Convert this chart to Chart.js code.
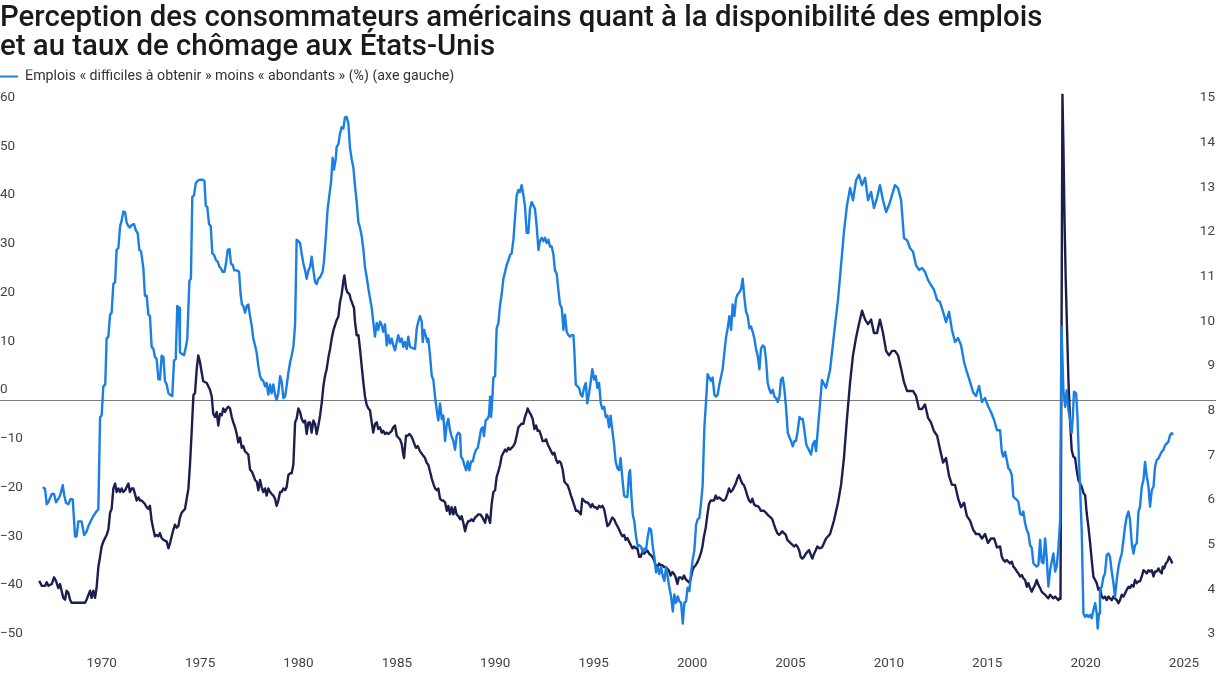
<!DOCTYPE html>
<html lang="fr">
<head>
<meta charset="utf-8">
<title>Emplois et chômage aux États-Unis</title>
<script src="https://cdn.jsdelivr.net/npm/chart.js@4.4.1/dist/chart.umd.min.js"></script>
<style>
  html, body { margin: 0; padding: 0; background: #fff; }
  #chart { display: block; }
</style>
</head>
<body>
<canvas id="chart" width="1216" height="673"></canvas>
<script>
const titleLines = [
  'Perception des consommateurs américains quant à la disponibilité des emplois',
  'et au taux de chômage aux États-Unis'
];
const seriesNames = [
  'Emplois « difficiles à obtenir » moins « abondants » (%) (axe gauche)',
  'Taux de chômage (%) (axe droit)'
];
const yearTicks = [1970, 1975, 1980, 1985, 1990, 1995, 2000, 2005, 2010, 2015, 2020, 2025];
const leftTicks = [-50, -40, -30, -20, -10, 0, 10, 20, 30, 40, 50, 60];
const rightTicks = [3, 4, 5, 6, 7, 8, 9, 10, 11, 12, 13, 14, 15];

// "difficiles à obtenir" moins "abondants", in points (left axis)
const jobsGapYears = [
  1967.25, 1967.37, 1967.46, 1967.54, 1967.72, 1967.84, 1967.94, 1968.06, 1968.15, 1968.29,
  1968.37, 1968.46, 1968.58, 1968.70, 1968.81, 1968.93, 1969.01, 1969.10, 1969.27, 1969.40,
  1969.53, 1969.62, 1969.74, 1969.88, 1970.00, 1970.14, 1970.23, 1970.31, 1970.40, 1970.50,
  1970.57, 1970.66, 1970.75, 1970.83, 1970.92, 1971.01, 1971.09, 1971.18, 1971.27, 1971.35,
  1971.44, 1971.53, 1971.61, 1971.70, 1971.78, 1971.87, 1971.99, 1972.10, 1972.18, 1972.27,
  1972.36, 1972.48, 1972.56, 1972.65, 1972.74, 1972.82, 1972.91, 1973.00, 1973.08, 1973.17,
  1973.26, 1973.34, 1973.43, 1973.52, 1973.60, 1973.69, 1973.78, 1973.86, 1973.98, 1974.07,
  1974.16, 1974.24, 1974.33, 1974.38, 1974.47, 1974.59, 1974.69, 1974.76, 1974.87, 1974.95,
  1975.02, 1975.11, 1975.20, 1975.30, 1975.42, 1975.56, 1975.65, 1975.72, 1975.80, 1975.89,
  1975.98, 1976.06, 1976.15, 1976.25, 1976.34, 1976.43, 1976.51, 1976.60, 1976.69, 1976.77,
  1976.86, 1976.95, 1977.03, 1977.12, 1977.20, 1977.33, 1977.45, 1977.53, 1977.60, 1977.67,
  1977.76, 1977.85, 1977.93, 1978.02, 1978.11, 1978.19, 1978.28, 1978.36, 1978.45, 1978.54,
  1978.62, 1978.71, 1978.80, 1978.88, 1978.97, 1979.06, 1979.14, 1979.23, 1979.32, 1979.40,
  1979.49, 1979.58, 1979.66, 1979.75, 1979.84, 1979.92, 1980.01, 1980.10, 1980.18, 1980.27,
  1980.36, 1980.44, 1980.53, 1980.62, 1980.70, 1980.79, 1980.88, 1980.96, 1981.05, 1981.14,
  1981.22, 1981.31, 1981.40, 1981.48, 1981.57, 1981.66, 1981.79, 1981.86, 1981.97, 1982.05,
  1982.14, 1982.23, 1982.31, 1982.38, 1982.47, 1982.52, 1982.61, 1982.69, 1982.78, 1982.87,
  1982.95, 1983.04, 1983.13, 1983.21, 1983.30, 1983.39, 1983.47, 1983.56, 1983.65, 1983.73,
  1983.82, 1983.91, 1983.99, 1984.08, 1984.17, 1984.25, 1984.34, 1984.42, 1984.51, 1984.60,
  1984.68, 1984.77, 1984.86, 1984.94, 1985.03, 1985.12, 1985.20, 1985.29, 1985.38, 1985.46,
  1985.55, 1985.64, 1985.72, 1985.81, 1985.90, 1985.98, 1986.07, 1986.16, 1986.24, 1986.33,
  1986.50, 1986.59, 1986.68, 1986.76, 1986.85, 1986.94, 1986.99, 1987.06, 1987.14, 1987.23,
  1987.28, 1987.37, 1987.46, 1987.54, 1987.63, 1987.72, 1987.80, 1987.89, 1987.98, 1988.06,
  1988.15, 1988.24, 1988.32, 1988.41, 1988.49, 1988.58, 1988.67, 1988.75, 1988.84, 1988.93,
  1988.98, 1989.07, 1989.15, 1989.24, 1989.33, 1989.41, 1989.50, 1989.59, 1989.67, 1989.76,
  1989.85, 1989.93, 1990.02, 1990.11, 1990.17, 1990.26, 1990.35, 1990.43, 1990.49, 1990.54,
  1990.61, 1990.66, 1990.75, 1990.83, 1990.92, 1991.01, 1991.09, 1991.18, 1991.27, 1991.35,
  1991.44, 1991.53, 1991.61, 1991.70, 1991.79, 1991.87, 1991.96, 1992.04, 1992.13, 1992.22,
  1992.30, 1992.39, 1992.48, 1992.56, 1992.65, 1992.74, 1992.82, 1992.91, 1993.00, 1993.08,
  1993.17, 1993.26, 1993.34, 1993.43, 1993.52, 1993.60, 1993.69, 1993.78, 1993.86, 1993.95,
  1994.04, 1994.12, 1994.21, 1994.30, 1994.38, 1994.47, 1994.56, 1994.64, 1994.73, 1994.82,
  1994.87, 1994.94, 1995.02, 1995.11, 1995.20, 1995.28, 1995.37, 1995.46, 1995.54, 1995.63,
  1995.72, 1995.80, 1995.89, 1995.98, 1996.06, 1996.15, 1996.24, 1996.32, 1996.41, 1996.50,
  1996.58, 1996.67, 1996.75, 1996.84, 1996.93, 1997.01, 1997.10, 1997.19, 1997.27, 1997.36,
  1997.45, 1997.53, 1997.62, 1997.71, 1997.76, 1997.83, 1997.90, 1997.98, 1998.07, 1998.16,
  1998.24, 1998.33, 1998.42, 1998.50, 1998.59, 1998.68, 1998.76, 1998.85, 1998.94, 1999.02,
  1999.11, 1999.20, 1999.28, 1999.37, 1999.46, 1999.54, 1999.63, 1999.72, 1999.80, 1999.89,
  1999.98, 2000.06, 2000.15, 2000.24, 2000.32, 2000.41, 2000.50, 2000.58, 2000.67, 2000.75,
  2000.84, 2000.93, 2001.01, 2001.10, 2001.19, 2001.27, 2001.36, 2001.45, 2001.53, 2001.62,
  2001.71, 2001.79, 2001.88, 2001.97, 2002.05, 2002.14, 2002.23, 2002.31, 2002.40, 2002.49,
  2002.57, 2002.66, 2002.75, 2002.83, 2002.92, 2003.01, 2003.09, 2003.18, 2003.26, 2003.35,
  2003.44, 2003.53, 2003.61, 2003.70, 2003.78, 2003.87, 2003.96, 2004.04, 2004.13, 2004.22,
  2004.30, 2004.39, 2004.48, 2004.56, 2004.65, 2004.74, 2004.82, 2004.91, 2005.00, 2005.08,
  2005.17, 2005.26, 2005.34, 2005.43, 2005.52, 2005.60, 2005.69, 2005.78, 2005.86, 2005.95,
  2006.04, 2006.12, 2006.21, 2006.30, 2006.38, 2006.47, 2006.56, 2006.64, 2006.73, 2006.82,
  2006.91, 2006.99, 2007.08, 2007.16, 2007.25, 2007.34, 2007.42, 2007.51, 2007.60, 2007.73,
  2007.94, 2008.15, 2008.35, 2008.56, 2008.72, 2008.87, 2009.03, 2009.19, 2009.34, 2009.50,
  2009.65, 2009.81, 2009.97, 2010.12, 2010.28, 2010.43, 2010.59, 2010.74, 2010.90, 2011.06,
  2011.21, 2011.37, 2011.52, 2011.68, 2011.84, 2011.99, 2012.15, 2012.30, 2012.46, 2012.61,
  2012.77, 2012.93, 2013.08, 2013.24, 2013.39, 2013.55, 2013.71, 2013.86, 2014.02, 2014.17,
  2014.33, 2014.48, 2014.64, 2014.80, 2014.95, 2015.11, 2015.26, 2015.42, 2015.58, 2015.73,
  2015.89, 2016.04, 2016.20, 2016.35, 2016.51, 2016.67, 2016.82, 2016.98, 2017.07, 2017.15,
  2017.24, 2017.33, 2017.41, 2017.50, 2017.59, 2017.67, 2017.76, 2017.85, 2017.93, 2018.02,
  2018.11, 2018.19, 2018.28, 2018.37, 2018.45, 2018.54, 2018.63, 2018.71, 2018.80, 2018.88,
  2018.97, 2019.06, 2019.14, 2019.23, 2019.32, 2019.40, 2019.49, 2019.58, 2019.66, 2019.75,
  2019.84, 2019.92, 2020.01, 2020.10, 2020.17, 2020.27, 2020.36, 2020.44, 2020.53, 2020.62,
  2020.70, 2020.75, 2020.82, 2020.93, 2021.00, 2021.07, 2021.14, 2021.22, 2021.31, 2021.40,
  2021.48, 2021.57, 2021.66, 2021.74, 2021.83, 2021.92, 2022.00, 2022.05, 2022.12, 2022.17,
  2022.26, 2022.35, 2022.43, 2022.52, 2022.61, 2022.69, 2022.78, 2022.87, 2022.95, 2023.04,
  2023.13, 2023.21, 2023.30, 2023.39, 2023.47, 2023.56, 2023.65, 2023.73, 2023.82, 2023.91,
  2023.99, 2024.08, 2024.17, 2024.25, 2024.34, 2024.43, 2024.51, 2024.60, 2024.69, 2024.77,
  2024.86, 2024.95, 2025.03, 2025.12, 2025.21, 2025.29, 2025.38, 2025.46, 2025.55, 2025.64,
  2025.72, 2025.81, 2025.90, 2025.95
];
const jobsGap = [
  -17.9, -18.2, -21.4, -21.0, -19.3, -19.3, -21.0, -20.3, -19.6, -17.5,
  -19.6, -21.1, -21.4, -20.3, -20.4, -28.0, -28.0, -24.9, -24.9, -27.7,
  -27.0, -25.9, -24.9, -23.8, -23.1, -22.4, -3.5, -3.2, 2.8, 3.2,
  12.6, 13.0, 17.5, 17.9, 23.8, 24.2, 30.8, 31.2, 35.7, 36.8,
  38.7, 38.5, 36.4, 35.7, 35.4, 35.9, 36.1, 34.7, 34.3, 30.8,
  30.5, 27.0, 21.4, 21.4, 17.5, 17.2, 10.9, 10.5, 8.8, 8.4,
  4.3, 4.2, 9.1, 8.8, 3.9, 3.2, 1.4, 1.1, 0.8, 8.1,
  8.4, 19.3, 18.9, 9.8, 9.5, 9.2, 10.9, 12.6, 24.5, 24.9,
  41.7, 42.0, 44.5, 45.0, 45.2, 45.2, 45.0, 39.9, 39.6, 36.1,
  35.7, 30.1, 29.8, 28.7, 28.4, 27.3, 27.0, 26.3, 26.3, 28.0,
  30.8, 31.0, 28.0, 27.7, 26.6, 26.6, 26.3, 21.7, 19.6, 19.3,
  17.9, 19.3, 19.6, 17.2, 15.1, 12.6, 11.2, 9.8, 7.0, 4.9,
  4.2, 3.9, 2.8, 3.5, 1.1, 3.2, 1.4, 3.2, 1.1, 0.0,
  1.4, 4.9, 3.9, 0.4, 0.7, 2.8, 5.6, 7.7, 9.1, 10.9,
  15.4, 32.9, 32.6, 32.2, 30.1, 28.0, 26.6, 24.9, 26.6, 27.3,
  29.4, 26.6, 24.2, 23.8, 24.9, 25.2, 26.3, 28.4, 34.3, 39.2,
  42.0, 44.8, 49.7, 47.3, 49.4, 52.0, 52.5, 54.6, 56.0, 55.7,
  58.0, 58.1, 56.7, 51.8, 49.4, 47.6, 44.1, 40.6, 36.4, 35.4,
  33.6, 30.8, 27.3, 25.2, 22.8, 21.0, 18.9, 16.1, 13.0, 15.8,
  14.4, 16.1, 15.4, 14.0, 15.5, 11.2, 13.3, 11.6, 12.6, 11.2,
  10.2, 11.9, 13.3, 11.9, 12.6, 10.9, 11.9, 10.5, 13.0, 10.9,
  10.6, 10.5, 14.7, 16.1, 17.2, 16.1, 11.9, 14.4, 13.3, 11.9,
  12.6, 9.1, 4.9, 4.2, 0.7, -2.1, -4.2, -0.7, -3.9, -3.2,
  -8.4, -4.9, -3.9, -6.3, -7.4, -8.4, -10.2, -7.4, -6.7, -7.0,
  -11.6, -12.2, -13.3, -14.4, -12.6, -14.4, -12.6, -12.6, -11.2, -10.2,
  -9.8, -8.1, -6.0, -5.6, -7.4, -4.2, -3.9, -3.2, 0.7, -3.5,
  0.7, 4.6, 4.9, 14.7, 15.8, 19.6, 21.7, 24.9, 26.3, 27.7,
  28.7, 29.8, 30.1, 32.9, 37.8, 42.0, 43.1, 42.7, 44.1, 42.0,
  39.9, 34.3, 34.3, 39.2, 40.6, 39.9, 39.2, 35.7, 30.8, 32.6,
  33.3, 32.6, 33.3, 32.2, 32.9, 31.5, 31.5, 29.8, 26.6, 25.9,
  22.4, 19.6, 18.9, 14.4, 17.5, 14.0, 13.3, 13.0, 13.3, 13.3,
  9.8, 3.2, 2.8, 2.5, 1.1, 0.7, 2.5, 3.5, -0.7, 1.4,
  3.9, 6.3, 4.2, 4.9, 2.5, 3.5, -0.7, -1.8, -1.4, -3.5,
  -3.2, -5.6, -3.2, -6.3, -9.1, -12.6, -14.0, -14.4, -11.9, -16.1,
  -19.6, -19.9, -19.9, -15.0, -14.4, -19.6, -23.5, -24.9, -28.0, -30.1,
  -29.8, -30.1, -31.2, -30.5, -30.8, -28.0, -26.3, -26.6, -30.1, -32.2,
  -35.4, -34.3, -35.7, -34.3, -36.1, -37.1, -34.3, -36.4, -38.5, -40.3,
  -43.4, -39.9, -41.6, -40.3, -41.3, -41.6, -45.9, -41.6, -41.3, -38.5,
  -39.2, -35.4, -32.9, -30.8, -25.6, -24.5, -24.2, -21.0, -17.5, -5.6,
  0.0, 5.3, 4.6, 3.9, 4.6, 1.1, 0.7, 1.1, 3.2, 4.9,
  6.3, 9.8, 13.0, 14.7, 17.2, 14.4, 19.6, 17.2, 20.7, 21.7,
  22.1, 22.8, 24.9, 21.0, 18.2, 17.2, 14.7, 15.1, 14.0, 12.6,
  10.5, 9.1, 6.3, 10.5, 11.2, 10.9, 8.4, 3.5, 2.1, 1.4,
  2.1, 0.7, 0.4, -0.4, 0.7, 4.2, 4.6, 2.1, -1.4, -6.7,
  -7.7, -8.4, -9.5, -8.4, -8.4, -6.3, -3.5, -3.9, -3.9, -6.3,
  -9.1, -9.8, -10.5, -11.2, -9.1, -8.4, -10.5, -6.3, -2.1, 4.1,
  2.5, 6.2, 13.3, 20.5, 27.7, 34.5, 40.0, 43.5, 41.0, 45.1,
  46.2, 44.1, 45.6, 41.0, 42.7, 39.4, 41.5, 44.1, 41.0, 38.6,
  40.0, 42.1, 44.1, 43.5, 41.0, 33.2, 32.8, 31.2, 30.4, 27.7,
  26.7, 27.1, 26.3, 24.6, 23.6, 22.6, 20.5, 20.1, 18.1, 16.0,
  18.1, 14.4, 11.9, 12.7, 11.3, 7.8, 5.7, 3.7, 1.6, 0.8,
  2.9, -0.4, 0.4, -1.2, -2.5, -4.1, -6.2, -6.2, -10.6, -11.6,
  -10.6, -12.3, -14.0, -14.4, -15.4, -19.8, -20.2, -20.5, -20.9, -23.3,
  -23.6, -22.9, -25.3, -26.7, -27.4, -29.8, -30.4, -33.5, -33.9, -34.2,
  -33.9, -28.7, -33.2, -33.5, -28.4, -32.2, -38.3, -34.9, -33.2, -31.5,
  -35.2, -34.2, -30.4, -24.6, 15.0, 2.0, -1.4, 2.0, -2.1, -4.1,
  -6.8, -4.1, 1.7, 1.4, -3.4, -11.6, -18.5, -26.7, -43.8, -44.5,
  -44.1, -44.5, -44.1, -44.8, -43.1, -41.7, -43.8, -46.9, -43.8, -39.0,
  -38.3, -36.3, -35.6, -31.8, -31.5, -32.2, -35.2, -37.6, -40.4, -36.9,
  -34.2, -32.8, -31.5, -28.7, -26.0, -23.9, -22.9, -24.6, -29.4, -31.5,
  -29.8, -29.4, -22.9, -21.9, -17.8, -16.4, -12.7, -15.7, -17.8, -21.9,
  -18.5, -17.8, -13.7, -12.3, -12.0, -11.3, -10.6, -10.3, -9.3, -8.9,
  -8.6, -7.2, -6.8, -7.2
];

// Taux de chômage, % (right axis)
const unemploymentYears = [
  1967.07, 1967.20, 1967.37, 1967.46, 1967.54, 1967.72, 1967.84, 1967.94, 1968.06, 1968.15,
  1968.23, 1968.32, 1968.41, 1968.49, 1968.58, 1968.67, 1968.75, 1968.93, 1969.10, 1969.27,
  1969.45, 1969.53, 1969.71, 1969.79, 1969.88, 1969.97, 1970.05, 1970.14, 1970.23, 1970.31,
  1970.40, 1970.57, 1970.66, 1970.75, 1970.83, 1970.92, 1971.01, 1971.09, 1971.18, 1971.27,
  1971.35, 1971.44, 1971.53, 1971.61, 1971.70, 1971.78, 1971.87, 1971.96, 1972.04, 1972.13,
  1972.22, 1972.30, 1972.39, 1972.48, 1972.56, 1972.65, 1972.74, 1972.82, 1972.91, 1973.00,
  1973.08, 1973.17, 1973.26, 1973.34, 1973.43, 1973.52, 1973.69, 1973.78, 1973.86, 1973.95,
  1974.04, 1974.12, 1974.21, 1974.30, 1974.38, 1974.47, 1974.64, 1974.73, 1974.82, 1974.90,
  1974.99, 1975.08, 1975.16, 1975.25, 1975.33, 1975.42, 1975.51, 1975.59, 1975.77, 1975.94,
  1976.03, 1976.11, 1976.20, 1976.29, 1976.37, 1976.46, 1976.55, 1976.63, 1976.72, 1976.81,
  1976.89, 1976.98, 1977.07, 1977.15, 1977.24, 1977.33, 1977.41, 1977.50, 1977.59, 1977.67,
  1977.76, 1977.93, 1978.02, 1978.11, 1978.19, 1978.28, 1978.37, 1978.45, 1978.54, 1978.62,
  1978.71, 1978.80, 1978.88, 1978.97, 1979.06, 1979.14, 1979.23, 1979.32, 1979.40, 1979.49,
  1979.58, 1979.66, 1979.75, 1979.84, 1979.92, 1980.01, 1980.10, 1980.18, 1980.27, 1980.36,
  1980.44, 1980.53, 1980.62, 1980.70, 1980.79, 1980.88, 1980.96, 1981.05, 1981.14, 1981.22,
  1981.31, 1981.40, 1981.48, 1981.57, 1981.66, 1981.74, 1981.83, 1981.91, 1982.00, 1982.09,
  1982.18, 1982.26, 1982.35, 1982.43, 1982.52, 1982.61, 1982.69, 1982.78, 1982.87, 1982.92,
  1983.01, 1983.08, 1983.18, 1983.25, 1983.35, 1983.42, 1983.47, 1983.56, 1983.65, 1983.73,
  1983.82, 1983.91, 1983.99, 1984.08, 1984.17, 1984.25, 1984.34, 1984.42, 1984.51, 1984.60,
  1984.68, 1984.77, 1984.86, 1984.94, 1985.03, 1985.12, 1985.20, 1985.29, 1985.38, 1985.46,
  1985.55, 1985.64, 1985.72, 1985.81, 1985.90, 1985.98, 1986.02, 1986.12, 1986.21, 1986.30,
  1986.38, 1986.47, 1986.56, 1986.64, 1986.73, 1986.85, 1986.94, 1987.02, 1987.11, 1987.20,
  1987.28, 1987.37, 1987.46, 1987.54, 1987.63, 1987.72, 1987.80, 1987.89, 1987.98, 1988.06,
  1988.15, 1988.24, 1988.32, 1988.41, 1988.49, 1988.58, 1988.67, 1988.75, 1988.84, 1988.93,
  1989.01, 1989.10, 1989.19, 1989.27, 1989.36, 1989.45, 1989.53, 1989.62, 1989.71, 1989.79,
  1989.88, 1989.97, 1990.05, 1990.14, 1990.23, 1990.31, 1990.40, 1990.49, 1990.57, 1990.66,
  1990.75, 1990.83, 1990.92, 1991.01, 1991.09, 1991.18, 1991.27, 1991.35, 1991.44, 1991.53,
  1991.61, 1991.70, 1991.79, 1991.87, 1991.96, 1992.04, 1992.13, 1992.22, 1992.30, 1992.39,
  1992.44, 1992.53, 1992.62, 1992.70, 1992.79, 1992.88, 1992.96, 1993.05, 1993.14, 1993.22,
  1993.31, 1993.40, 1993.48, 1993.57, 1993.66, 1993.74, 1993.83, 1993.92, 1994.00, 1994.09,
  1994.17, 1994.26, 1994.35, 1994.43, 1994.52, 1994.61, 1994.69, 1994.78, 1994.87, 1994.95,
  1995.04, 1995.13, 1995.20, 1995.28, 1995.37, 1995.46, 1995.54, 1995.63, 1995.72, 1995.80,
  1995.89, 1995.98, 1996.06, 1996.15, 1996.24, 1996.32, 1996.41, 1996.50, 1996.58, 1996.67,
  1996.75, 1996.84, 1996.93, 1997.01, 1997.10, 1997.19, 1997.27, 1997.36, 1997.45, 1997.53,
  1997.62, 1997.71, 1997.79, 1997.88, 1997.97, 1998.05, 1998.14, 1998.23, 1998.31, 1998.40,
  1998.49, 1998.57, 1998.66, 1998.75, 1998.83, 1998.92, 1999.01, 1999.09, 1999.18, 1999.27,
  1999.35, 1999.44, 1999.53, 1999.61, 1999.70, 1999.78, 1999.87, 1999.96, 2000.04, 2000.13,
  2000.22, 2000.30, 2000.39, 2000.48, 2000.56, 2000.65, 2000.74, 2000.82, 2000.91, 2001.00,
  2001.08, 2001.17, 2001.26, 2001.34, 2001.43, 2001.52, 2001.60, 2001.69, 2001.78, 2001.86,
  2001.95, 2002.04, 2002.12, 2002.21, 2002.29, 2002.38, 2002.47, 2002.56, 2002.64, 2002.73,
  2002.82, 2002.90, 2002.99, 2003.08, 2003.16, 2003.25, 2003.33, 2003.42, 2003.51, 2003.59,
  2003.68, 2003.77, 2003.85, 2003.94, 2004.03, 2004.11, 2004.20, 2004.29, 2004.37, 2004.46,
  2004.55, 2004.63, 2004.72, 2004.81, 2004.89, 2004.98, 2005.07, 2005.15, 2005.24, 2005.33,
  2005.41, 2005.50, 2005.59, 2005.67, 2005.76, 2005.85, 2005.93, 2006.02, 2006.11, 2006.19,
  2006.28, 2006.37, 2006.45, 2006.54, 2006.62, 2006.71, 2006.80, 2006.89, 2006.97, 2007.06,
  2007.15, 2007.23, 2007.32, 2007.41, 2007.49, 2007.60, 2007.73, 2007.94, 2008.15, 2008.35,
  2008.56, 2008.72, 2008.87, 2009.03, 2009.19, 2009.34, 2009.50, 2009.65, 2009.81, 2009.97,
  2010.12, 2010.28, 2010.43, 2010.59, 2010.74, 2010.90, 2011.06, 2011.21, 2011.37, 2011.52,
  2011.68, 2011.84, 2011.99, 2012.15, 2012.30, 2012.46, 2012.61, 2012.77, 2012.93, 2013.08,
  2013.24, 2013.39, 2013.55, 2013.71, 2013.86, 2014.02, 2014.17, 2014.33, 2014.48, 2014.64,
  2014.80, 2014.95, 2015.11, 2015.26, 2015.42, 2015.58, 2015.73, 2015.89, 2016.04, 2016.20,
  2016.35, 2016.51, 2016.67, 2016.82, 2016.98, 2017.07, 2017.15, 2017.24, 2017.33, 2017.41,
  2017.50, 2017.59, 2017.67, 2017.76, 2017.85, 2017.93, 2018.02, 2018.11, 2018.19, 2018.28,
  2018.37, 2018.45, 2018.54, 2018.63, 2018.71, 2018.80, 2018.88, 2018.97, 2019.06, 2019.14,
  2019.23, 2019.32, 2019.40, 2019.49, 2019.58, 2019.66, 2019.75, 2019.84, 2019.92, 2020.01,
  2020.06, 2020.12, 2020.22, 2020.27, 2020.33, 2020.39, 2020.53, 2020.62, 2020.70, 2020.79,
  2020.88, 2020.96, 2021.05, 2021.14, 2021.22, 2021.31, 2021.40, 2021.48, 2021.57, 2021.66,
  2021.74, 2021.83, 2021.92, 2022.00, 2022.09, 2022.17, 2022.26, 2022.35, 2022.43, 2022.52,
  2022.61, 2022.69, 2022.78, 2022.87, 2022.95, 2023.04, 2023.13, 2023.21, 2023.30, 2023.39,
  2023.47, 2023.56, 2023.65, 2023.73, 2023.82, 2023.91, 2023.99, 2024.08, 2024.17, 2024.25,
  2024.34, 2024.43, 2024.51, 2024.60, 2024.69, 2024.77, 2024.86, 2024.95, 2025.03, 2025.12,
  2025.21, 2025.29, 2025.38, 2025.43, 2025.50, 2025.59, 2025.67, 2025.76, 2025.85, 2025.93
];
const unemployment = [
  3.95, 3.84, 3.84, 3.92, 3.84, 3.88, 4.03, 3.95, 3.79, 3.88,
  3.73, 3.57, 3.53, 3.73, 3.69, 3.53, 3.46, 3.46, 3.46, 3.46,
  3.46, 3.53, 3.73, 3.57, 3.73, 3.57, 3.80, 4.26, 4.49, 4.72,
  4.83, 4.98, 5.10, 5.48, 5.56, 6.02, 6.13, 5.94, 6.02, 5.94,
  6.02, 5.94, 5.98, 6.05, 6.13, 5.94, 6.02, 6.02, 5.90, 5.75,
  5.82, 5.75, 5.75, 5.71, 5.67, 5.60, 5.56, 5.63, 5.29, 5.10,
  4.95, 4.98, 4.95, 5.02, 4.91, 4.87, 4.83, 4.68, 4.79, 4.95,
  5.10, 5.21, 5.14, 5.18, 5.37, 5.48, 5.56, 5.79, 6.02, 6.55,
  7.31, 8.11, 8.15, 8.69, 9.00, 8.85, 8.61, 8.42, 8.38, 8.23,
  8.08, 7.69, 7.62, 7.73, 7.43, 7.69, 7.66, 7.81, 7.73, 7.81,
  7.85, 7.81, 7.62, 7.50, 7.39, 7.24, 7.05, 7.16, 6.93, 6.97,
  6.85, 6.78, 6.44, 6.40, 6.32, 6.21, 6.17, 5.98, 6.21, 6.05,
  5.94, 6.02, 5.86, 6.02, 5.94, 5.90, 5.86, 5.79, 5.63, 5.75,
  5.94, 5.94, 6.02, 5.98, 6.05, 6.32, 6.36, 6.36, 6.55, 7.50,
  7.58, 7.81, 7.73, 7.58, 7.50, 7.54, 7.24, 7.50, 7.50, 7.27,
  7.54, 7.46, 7.24, 7.43, 7.66, 7.92, 8.31, 8.53, 8.69, 8.95,
  9.15, 9.37, 9.56, 9.67, 9.79, 9.87, 10.18, 10.37, 10.67, 10.79,
  10.49, 10.41, 10.37, 10.26, 10.14, 10.06, 9.76, 9.45, 9.45, 9.15,
  8.76, 8.38, 8.08, 7.89, 7.81, 7.77, 7.50, 7.27, 7.46, 7.50,
  7.35, 7.39, 7.27, 7.31, 7.24, 7.27, 7.24, 7.27, 7.31, 7.39,
  7.43, 7.20, 7.16, 7.12, 7.01, 6.78, 6.70, 7.20, 7.20, 7.24,
  7.20, 7.12, 7.01, 6.93, 6.97, 6.85, 6.80, 6.75, 6.70, 6.59,
  6.55, 6.40, 6.24, 6.13, 6.02, 5.98, 6.02, 5.79, 5.75, 5.75,
  5.71, 5.52, 5.63, 5.44, 5.60, 5.44, 5.60, 5.44, 5.40, 5.33,
  5.40, 5.25, 5.06, 5.21, 5.29, 5.29, 5.33, 5.29, 5.37, 5.40,
  5.44, 5.44, 5.40, 5.33, 5.25, 5.44, 5.37, 5.25, 5.67, 5.94,
  5.98, 6.28, 6.40, 6.55, 6.74, 6.82, 6.89, 6.85, 6.93, 6.89,
  6.93, 6.97, 7.05, 7.20, 7.39, 7.43, 7.47, 7.47, 7.62, 7.73,
  7.81, 7.73, 7.66, 7.58, 7.35, 7.43, 7.31, 7.31, 7.20, 7.08,
  7.08, 7.12, 7.01, 6.93, 6.85, 6.78, 6.82, 6.66, 6.59, 6.63,
  6.59, 6.44, 6.17, 6.13, 6.09, 5.98, 5.86, 5.75, 5.63, 5.52,
  5.52, 5.48, 5.44, 5.79, 5.75, 5.71, 5.71, 5.67, 5.60, 5.67,
  5.60, 5.60, 5.56, 5.63, 5.60, 5.63, 5.56, 5.37, 5.18, 5.21,
  5.29, 5.37, 5.33, 5.25, 5.18, 5.10, 5.02, 4.95, 4.98, 4.87,
  4.91, 4.83, 4.76, 4.68, 4.72, 4.68, 4.68, 4.49, 4.49, 4.60,
  4.56, 4.60, 4.63, 4.56, 4.53, 4.49, 4.41, 4.30, 4.26, 4.34,
  4.30, 4.30, 4.26, 4.26, 4.22, 4.18, 4.07, 4.15, 4.11, 4.03,
  3.88, 4.03, 4.03, 3.99, 4.07, 3.99, 3.95, 3.92, 3.99, 4.18,
  4.26, 4.30, 4.37, 4.45, 4.56, 4.72, 4.95, 5.14, 5.44, 5.67,
  5.75, 5.75, 5.75, 5.86, 5.79, 5.82, 5.79, 5.75, 5.75, 5.79,
  5.90, 6.02, 5.94, 5.98, 6.05, 6.13, 6.24, 6.32, 6.21, 6.13,
  6.09, 5.98, 5.86, 5.75, 5.71, 5.79, 5.67, 5.63, 5.63, 5.60,
  5.52, 5.52, 5.52, 5.48, 5.44, 5.40, 5.37, 5.33, 5.21, 5.10,
  5.02, 4.98, 5.02, 5.06, 5.02, 4.98, 4.87, 4.83, 4.79, 4.76,
  4.72, 4.76, 4.72, 4.64, 4.49, 4.45, 4.49, 4.56, 4.60, 4.64,
  4.53, 4.45, 4.56, 4.64, 4.72, 4.68, 4.70, 4.90, 5.00, 5.30,
  5.70, 6.10, 6.70, 7.60, 8.40, 9.00, 9.40, 9.70, 10.00, 9.80,
  9.70, 9.80, 9.50, 9.50, 9.80, 9.50, 9.10, 9.00, 9.10, 9.10,
  9.00, 8.70, 8.40, 8.20, 8.20, 8.20, 8.10, 7.80, 7.80, 7.90,
  7.60, 7.50, 7.30, 7.20, 6.90, 6.60, 6.70, 6.30, 6.10, 6.10,
  5.80, 5.60, 5.70, 5.40, 5.30, 5.10, 5.00, 5.00, 4.90, 5.00,
  4.80, 4.90, 4.90, 4.70, 4.72, 4.49, 4.42, 4.38, 4.42, 4.38,
  4.34, 4.38, 4.27, 4.23, 4.16, 4.12, 4.05, 4.08, 4.01, 3.97,
  3.82, 3.90, 3.79, 3.71, 3.79, 3.86, 3.97, 3.86, 3.79, 3.71,
  3.67, 3.64, 3.60, 3.56, 3.64, 3.60, 3.56, 3.60, 3.56, 3.52,
  3.56, 3.55, 14.85, 13.70, 12.00, 10.70, 8.45, 7.50, 6.88, 6.73,
  6.70, 6.43, 6.20, 6.13, 6.06, 5.92, 5.87, 5.47, 5.16, 4.79,
  4.42, 4.04, 3.97, 3.90, 3.75, 3.79, 3.60, 3.56, 3.60, 3.52,
  3.60, 3.56, 3.52, 3.60, 3.56, 3.52, 3.45, 3.52, 3.64, 3.60,
  3.67, 3.75, 3.82, 3.79, 3.86, 3.82, 3.97, 3.90, 3.94, 3.94,
  4.05, 4.19, 4.16, 4.12, 4.19, 4.16, 4.19, 4.05, 4.16, 4.16,
  4.23, 4.16, 4.12, 4.27, 4.23, 4.34, 4.38, 4.49, 4.42, 4.34
];

const lightBlue = '#1a7fe4';
const navy = '#1b1f4e';

const toPoints = (xs, ys) => xs.map((x, i) => ({ x, y: ys[i] }));
const fmtTick = (v) => (v < 0 ? '\u2212' + Math.abs(v) : String(v));

// the 0 line of the left axis runs across the whole width, under the lines
const zeroLine = {
  id: 'zeroLine',
  beforeDatasetsDraw(chart) {
    const y = Math.round(chart.scales.y.getPixelForValue(0)) + 0.5;
    const ctx = chart.ctx;
    ctx.save();
    ctx.strokeStyle = '#7a7a7a';
    ctx.lineWidth = 1.2;
    ctx.beginPath();
    ctx.moveTo(0, y);
    ctx.lineTo(chart.width, y);
    ctx.stroke();
    ctx.restore();
  }
};

Chart.defaults.font.family = 'Roboto, "Open Sans", sans-serif';

new Chart(document.getElementById('chart'), {
  type: 'line',
  data: {
    datasets: [
      {
        label: seriesNames[0],
        data: toPoints(jobsGapYears, jobsGap),
        borderColor: lightBlue,
        backgroundColor: lightBlue,
        borderWidth: 2.4,
        yAxisID: 'y'
      },
      {
        label: seriesNames[1],
        data: toPoints(unemploymentYears, unemployment),
        borderColor: navy,
        backgroundColor: navy,
        borderWidth: 2.4,
        yAxisID: 'y1'
      }
    ]
  },
  options: {
    responsive: false,
    animation: false,
    devicePixelRatio: 1,
    events: [],
    elements: {
      point: { radius: 0 },
      line: { tension: 0, borderJoinStyle: 'round' }
    },
    layout: { padding: { left: 0, right: 1, top: 0, bottom: 0 } },
    plugins: {
      title: {
        display: true,
        text: titleLines,
        align: 'start',
        color: '#1a1a1a',
        font: { size: 29.4, weight: '500', lineHeight: '29px' },
        padding: { top: 4, bottom: 7.5 }
      },
      legend: {
        position: 'top',
        align: 'start',
        labels: {
          boxWidth: 18,
          boxHeight: 2,
          padding: 0,
          color: '#333',
          font: { size: 14.2 },
          generateLabels: (chart) =>
            Chart.defaults.plugins.legend.labels.generateLabels(chart)
              .filter((item) => item.datasetIndex === 0)
              .map((item) => ({ ...item, lineWidth: 0 }))
        }
      },
      tooltip: { enabled: false }
    },
    scales: {
      x: {
        type: 'linear',
        display: false,
        min: 1966.59,
        max: 2026.69
      },
      years: {
        type: 'linear',
        position: 'bottom',
        min: 1966.356,
        max: 2025.152,
        afterBuildTicks: (axis) => { axis.ticks = yearTicks.map((value) => ({ value })); },
        grid: { display: false, drawTicks: false },
        border: { display: false },
        ticks: {
          autoSkip: false,
          maxRotation: 0,
          padding: 1,
          color: '#444',
          font: { size: 13.5 },
          callback: (v) => String(v)
        }
      },
      y: {
        type: 'linear',
        position: 'left',
        min: -52.29,
        max: 62.86,
        afterBuildTicks: (axis) => { axis.ticks = leftTicks.map((value) => ({ value })); },
        afterFit: (axis) => { axis.width = 30; },
        grid: { display: false },
        border: { display: false },
        ticks: {
          crossAlign: 'far',
          labelOffset: -10,
          padding: 0,
          color: '#444',
          font: { size: 13.5 },
          callback: fmtTick
        }
      },
      y1: {
        type: 'linear',
        position: 'right',
        min: 2.296,
        max: 14.857,
        afterBuildTicks: (axis) => { axis.ticks = rightTicks.map((value) => ({ value })); },
        afterFit: (axis) => { axis.width = 28; },
        grid: { display: false },
        border: { display: false },
        ticks: {
          crossAlign: 'far',
          labelOffset: 10.5,
          padding: 0,
          color: '#444',
          font: { size: 13.5 },
          callback: fmtTick
        }
      }
    }
  },
  plugins: [zeroLine]
});
</script>
</body>
</html>
